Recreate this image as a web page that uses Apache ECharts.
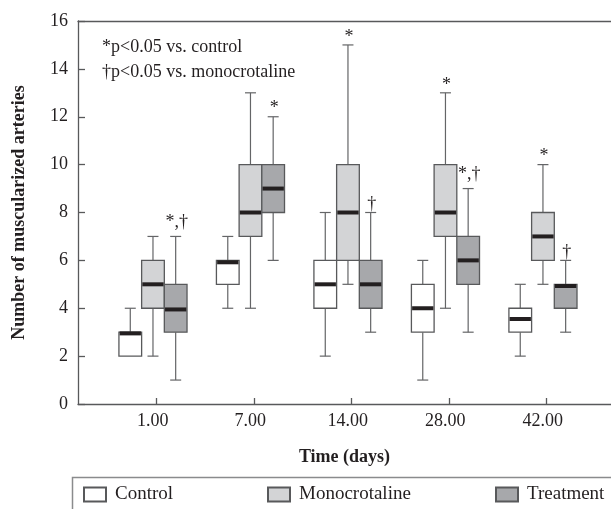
<!DOCTYPE html>
<html>
<head>
<meta charset="utf-8">
<script src="https://cdn.jsdelivr.net/npm/echarts@6/dist/echarts.min.js"></script>
<style>html,body{margin:0;padding:0;background:#fff;}#chart{width:611px;height:509px;}</style>
</head>
<body>
<div id="chart"></div>
<script>
// ---- data ----
const dayLabels = ['1.00', '7.00', '14.00', '28.00', '42.00'];
// [min, Q1, median, Q3, max]
const controlStats = [
  [2, 2, 2.95, 3, 4],
  [4, 5, 5.92, 6, 7],
  [2, 4, 5, 6, 8],
  [1, 3, 4, 5, 6],
  [2, 3, 3.55, 4, 5]
];
const monoStats = [
  [2, 4, 5, 6, 7],
  [4, 7, 8, 10, 13],
  [5, 6, 8, 10, 15],
  [4, 7, 8, 10, 13],
  [5, 6, 7, 8, 10]
];
const treatStats = [
  [1, 3, 3.95, 5, 7],
  [6, 8, 9, 10, 12],
  [3, 4, 5, 6, 8],
  [3, 5, 6, 7, 9],
  [3, 4, 4.93, 5, 6]
];
const controlSig = ['', '', '', '', ''];
const monoSig = ['', '', '*', '*', '*'];
const treatSig = ['*,\u2020', '*', '\u2020', '*,\u2020', '\u2020'];
const yTicks = [0, 2, 4, 6, 8, 10, 12, 14, 16];

// ---- style ----
const FONT = '"Liberation Serif", "DejaVu Serif", serif';
const TXT = '#231f20';
const BOXW = 22.7;
const BASEOFF = -3.7;

function buildData(stats, sig) {
  return stats.map((s, i) => [i + 1, s[0], s[1], s[2], s[3], s[4], sig[i]]);
}

function makeRender(offsetIdx, fill) {
  return function (params, api) {
    const xv = api.value(0);
    const base = api.coord([xv, 0]);
    const cx = base[0] + BASEOFF + offsetIdx * BOXW;
    const y = (v) => api.coord([xv, v])[1];
    const yMin = y(api.value(1)), yQ1 = y(api.value(2)), yMed = y(api.value(3)),
          yQ3 = y(api.value(4)), yMax = y(api.value(5));
    const sig = params.seriesIndex === 0 ? controlSig[params.dataIndex]
              : params.seriesIndex === 1 ? monoSig[params.dataIndex] : treatSig[params.dataIndex];
    const capW = 11;
    const wStyle = { stroke: '#646567', lineWidth: 1.2 };
    const children = [];
    if (yMax < yQ3 - 0.5) {
      children.push({ type: 'line', shape: { x1: cx, y1: yMax, x2: cx, y2: yQ3 }, style: wStyle });
      children.push({ type: 'line', shape: { x1: cx - capW / 2, y1: yMax, x2: cx + capW / 2, y2: yMax }, style: wStyle });
    }
    if (yMin > yQ1 + 0.5) {
      children.push({ type: 'line', shape: { x1: cx, y1: yQ1, x2: cx, y2: yMin }, style: wStyle });
      children.push({ type: 'line', shape: { x1: cx - capW / 2, y1: yMin, x2: cx + capW / 2, y2: yMin }, style: wStyle });
    }
    children.push({ type: 'rect', shape: { x: cx - BOXW / 2, y: yQ3, width: BOXW, height: yQ1 - yQ3 },
      style: { fill: fill, stroke: '#58595b', lineWidth: 1.3 } });
    children.push({ type: 'rect', shape: { x: cx - BOXW / 2 + 0.7, y: yMed - 2, width: BOXW - 1.4, height: 4 },
      style: { fill: '#231f20' } });
    if (sig) {
      const single = sig.length === 1;
      children.push({ type: 'text', style: { text: sig, x: cx + 1, y: single ? yMax + 1 : yMax - 5,
        align: 'center', verticalAlign: 'bottom', font: '18px ' + FONT, fill: TXT } });
    }
    return { type: 'group', children: children };
  };
}

const chart = echarts.init(document.getElementById('chart'), null, { renderer: 'canvas' });
const xMin = 0.193, xMax = 5.66;
const option = {
  animation: false,
  backgroundColor: '#fff',
  grid: { left: 78, top: 21, right: 0, bottom: 105 },
  xAxis: [{
    type: 'value', min: xMin, max: xMax,
    name: 'Time (days)', nameLocation: 'middle', nameGap: 44,
    nameTextStyle: { fontFamily: FONT, fontSize: 18, fontWeight: 'bold', color: TXT },
    axisLine: { show: true, lineStyle: { color: '#58595b', width: 1.3 } },
    axisTick: { show: true, inside: true, length: 6, customValues: [1, 2, 3, 4, 5], lineStyle: { color: '#58595b', width: 1.3 } },
    axisLabel: { customValues: [1, 2, 3, 4, 5], formatter: (v) => dayLabels[Math.round(v) - 1],
      fontFamily: FONT, fontSize: 18, color: TXT, margin: 8, padding: [0, 8, 0, 0] },
    splitLine: { show: false }
  }, {
    type: 'value', min: xMin, max: xMax, position: 'top',
    axisLine: { show: true, lineStyle: { color: '#58595b', width: 1.3 } },
    axisTick: { show: false }, axisLabel: { show: false }, splitLine: { show: false }
  }],
  yAxis: {
    type: 'value', min: 0, max: 16, interval: 2,
    name: 'Number of muscularized arteries', nameLocation: 'middle', nameGap: 50,
    nameTextStyle: { fontFamily: FONT, fontSize: 18, fontWeight: 'bold', color: TXT },
    axisLine: { show: true, lineStyle: { color: '#58595b', width: 1.3 } },
    axisTick: { show: true, inside: true, length: 7, lineStyle: { color: '#58595b', width: 1.3 } },
    axisLabel: { fontFamily: FONT, fontSize: 18, color: TXT, margin: 10,
      formatter: (v) => yTicks.indexOf(v) >= 0 ? String(v) : '' },
    splitLine: { show: false }
  },
  legend: [
    { data: ['Control'], left: 83, top: 485 },
    { data: ['Monocrotaline'], left: 267, top: 485 },
    { data: ['Treatment'], left: 495, top: 485 }
  ].map(l => Object.assign(l, {
    orient: 'horizontal', itemWidth: 22, itemHeight: 14, itemGap: 10, icon: 'rect', padding: 0,
    selectedMode: false,
    textStyle: { fontFamily: FONT, fontSize: 19, color: TXT, padding: [0, 0, 0, 4] }
  })),
  graphic: [
    { type: 'polyline', shape: { points: [[72.5, 509], [72.5, 477.5], [611, 477.5]] },
      style: { stroke: '#8a8b8d', lineWidth: 1.5, fill: null } },
    { type: 'text', left: 102, top: 38, style: { text: '*p<0.05 vs. control', font: '18px ' + FONT, fill: TXT } },
    { type: 'text', left: 102, top: 63, style: { text: '\u2020p<0.05 vs. monocrotaline', font: '18px ' + FONT, fill: TXT } }
  ],
  series: [
    { name: 'Control', type: 'custom', renderItem: makeRender(-1, '#ffffff'),
      itemStyle: { color: '#ffffff', borderColor: '#58595b', borderWidth: 1 },
      encode: { x: 0, y: [1, 2, 3, 4, 5] }, data: buildData(controlStats, controlSig) },
    { name: 'Monocrotaline', type: 'custom', renderItem: makeRender(0, '#d3d4d6'),
      itemStyle: { color: '#d3d4d6', borderColor: '#58595b', borderWidth: 1 },
      encode: { x: 0, y: [1, 2, 3, 4, 5] }, data: buildData(monoStats, monoSig) },
    { name: 'Treatment', type: 'custom', renderItem: makeRender(1, '#a7a8ab'),
      itemStyle: { color: '#a7a8ab', borderColor: '#58595b', borderWidth: 1 },
      encode: { x: 0, y: [1, 2, 3, 4, 5] }, data: buildData(treatStats, treatSig) }
  ]
};
chart.setOption(option);
</script>
</body>
</html>
